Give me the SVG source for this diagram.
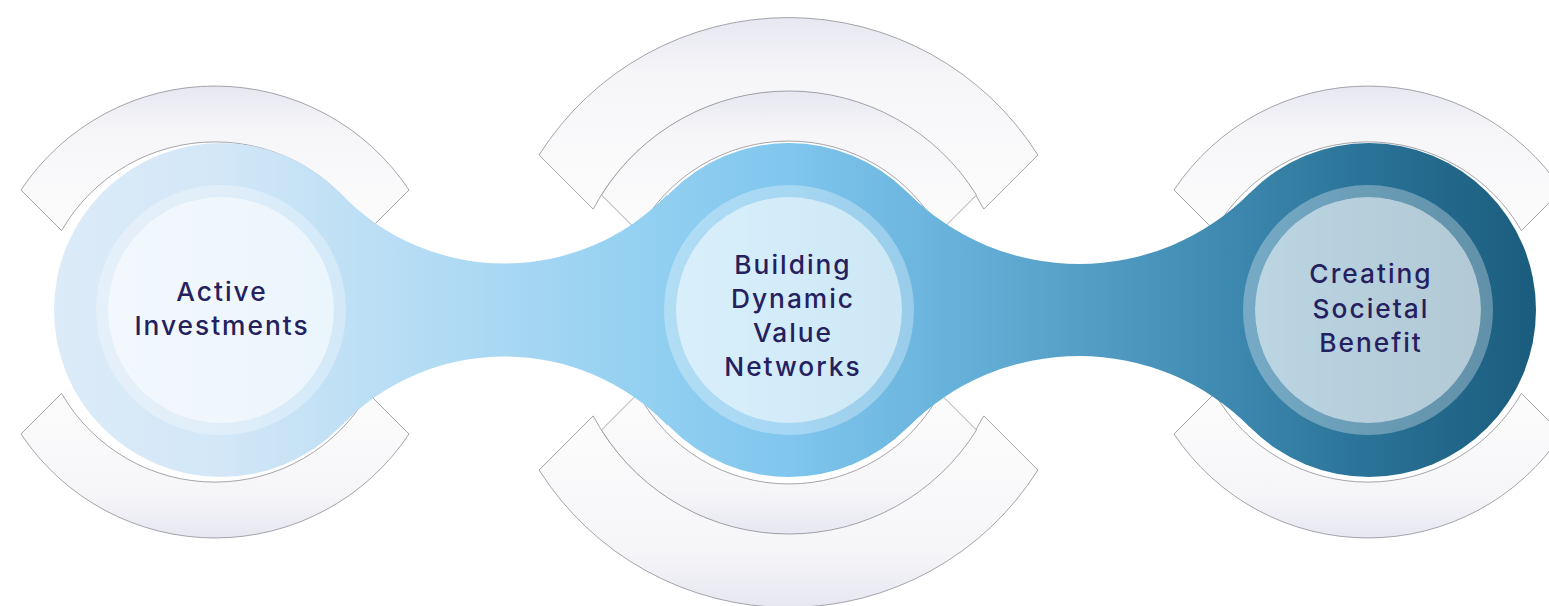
<svg xmlns="http://www.w3.org/2000/svg" width="1549" height="606" viewBox="0 0 1549 606">
  <defs>
    <!-- flowing band colour: pale sky blue on the left to deep teal on the right -->
    <linearGradient id="flow" gradientUnits="userSpaceOnUse" x1="54" y1="0" x2="1537" y2="0">
      <stop offset="0" stop-color="#dcebf8"/>
      <stop offset="0.113" stop-color="#d3e7f7"/>
      <stop offset="0.193" stop-color="#c0e0f5"/>
      <stop offset="0.30" stop-color="#a9d8f3"/>
      <stop offset="0.40" stop-color="#93d0f1"/>
      <stop offset="0.495" stop-color="#80c6ee"/>
      <stop offset="0.60" stop-color="#68b3dc"/>
      <stop offset="0.69" stop-color="#559fc6"/>
      <stop offset="0.80" stop-color="#3c87ae"/>
      <stop offset="0.88" stop-color="#2b7398"/>
      <stop offset="1" stop-color="#1a5c7d"/>
    </linearGradient>
    <linearGradient id="shellTop" x1="0" y1="0" x2="0" y2="1">
      <stop offset="0" stop-color="#e6e7f0"/>
      <stop offset="0.3" stop-color="#f6f6f9"/>
      <stop offset="1" stop-color="#fcfcfc"/>
    </linearGradient>
    <linearGradient id="shellBottom" x1="0" y1="1" x2="0" y2="0">
      <stop offset="0" stop-color="#e6e7f0"/>
      <stop offset="0.3" stop-color="#f6f6f9"/>
      <stop offset="1" stop-color="#fcfcfc"/>
    </linearGradient>
    <style>
      .shell { stroke: #9a9aa2; stroke-width: 0.9; }
      .shell.top { fill: url(#shellTop); }
      .shell.bottom { fill: url(#shellBottom); }
      .flow { fill: url(#flow); }
      .ring { fill: none; stroke: #ffffff; stroke-opacity: 0.3; stroke-width: 12; }
      .core { fill: #ffffff; fill-opacity: 0.66; }
      .label { font-family: Inter, "Noto Sans", "DejaVu Sans", sans-serif; font-weight: 500; font-size: 26.3px; letter-spacing: 2px; fill: #25215f; text-anchor: middle; }
    </style>
  </defs>

  <!-- white arc shells framing each stage -->
  <g id="shells">
    <!-- first stage -->
    <path class="shell top" d="M21,190 A233,233 0 0 1 409,190 L368.4,230.6 A177,177 0 0 0 61.6,230.6 Z"/>
    <path class="shell bottom" d="M21,434 A233,233 0 0 0 409,434 L368.4,393.4 A177,177 0 0 1 61.6,393.4 Z"/>
    <!-- second stage: outer pair -->
    <path class="shell top" d="M539.1,155 A295,295 0 0 1 1037.9,155 L983.8,209.1 A221,221 0 0 0 593.2,209.1 Z"/>
    <path class="shell bottom" d="M539.1,470 A295,295 0 0 0 1037.9,470 L983.8,415.9 A221,221 0 0 1 593.2,415.9 Z"/>
    <!-- second stage: inner pair -->
    <path class="shell top" d="M601.5,195 A221,221 0 0 1 976.5,195 L939.9,231.6 A171,171 0 0 0 638.1,231.6 Z"/>
    <path class="shell bottom" d="M601.5,430 A221,221 0 0 0 976.5,430 L939.9,393.4 A171,171 0 0 1 638.1,393.4 Z"/>
    <!-- third stage -->
    <path class="shell top" d="M1174,190 A233,233 0 0 1 1562,190 L1521.4,230.6 A177,177 0 0 0 1214.6,230.6 Z"/>
    <path class="shell bottom" d="M1174,434 A233,233 0 0 0 1562,434 L1521.4,393.4 A177,177 0 0 1 1214.6,393.4 Z"/>
  </g>

  <!-- waisted bridges joining the stages -->
  <g id="connectors">
    <path class="flow" d="M341.4,194.3 A226.8,226.8 0 0 0 667.6,194.3 L667.6,425.7 A226.8,226.8 0 0 0 341.4,425.7 Z"/>
    <path class="flow" d="M907.7,192.5 A241,241 0 0 0 1250.3,192.5 L1250.3,427.5 A241,241 0 0 0 907.7,427.5 Z"/>
  </g>

  <g id="node-active">
    <circle class="flow" cx="221" cy="310" r="167"/>
    <circle class="ring" cx="221" cy="310" r="119"/>
    <circle class="core" cx="221" cy="310" r="113"/>
    <text class="label" x="222" y="301">Active</text>
    <text class="label" x="222" y="335">Investments</text>
  </g>

  <g id="node-building">
    <circle class="flow" cx="789" cy="310" r="167"/>
    <circle class="ring" cx="789" cy="310" r="119"/>
    <circle class="core" cx="789" cy="310" r="113"/>
    <text class="label" x="793" y="274">Building</text>
    <text class="label" x="793" y="308">Dynamic</text>
    <text class="label" x="793" y="342">Value</text>
    <text class="label" x="793" y="376">Networks</text>
  </g>

  <g id="node-creating">
    <circle class="flow" cx="1369" cy="310" r="167"/>
    <circle class="ring" cx="1368" cy="310" r="119"/>
    <circle class="core" cx="1368" cy="310" r="113"/>
    <text class="label" x="1371" y="283">Creating</text>
    <text class="label" x="1371" y="318">Societal</text>
    <text class="label" x="1371" y="352">Benefit</text>
  </g>
</svg>
